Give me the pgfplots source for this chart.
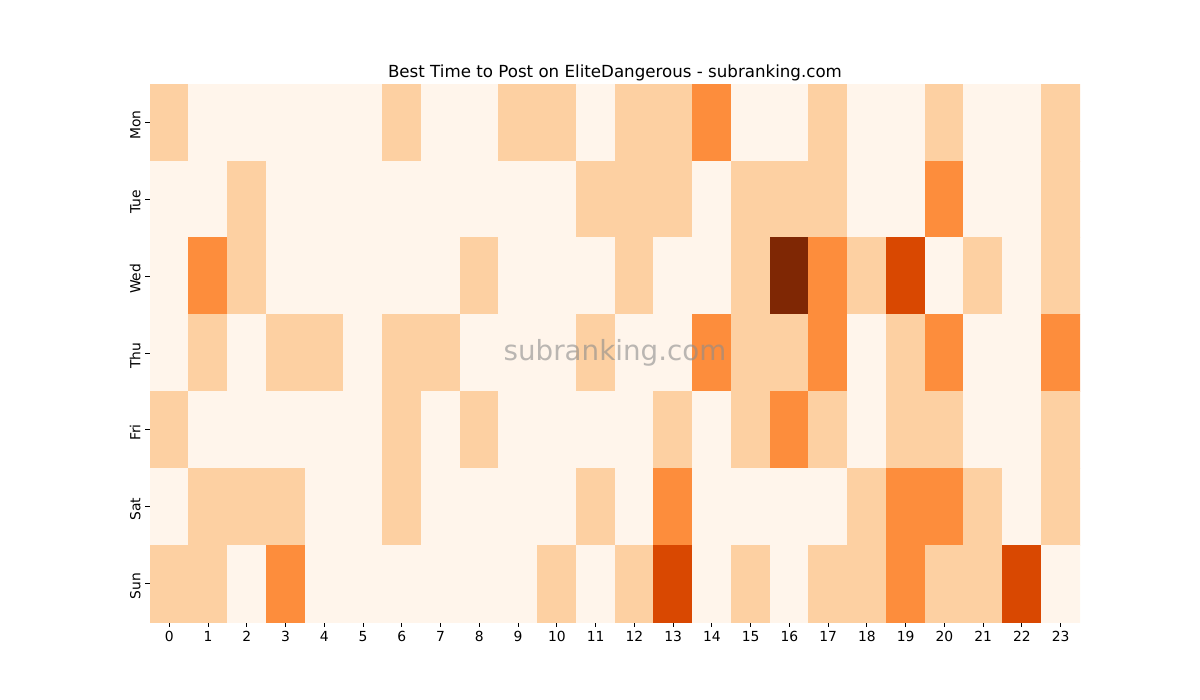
\documentclass[border=0pt]{standalone}
\usepackage{fontspec}
\setmainfont{DejaVu Sans}
\usepackage{pgfplots}
\pgfplotsset{compat=1.18}
\begin{document}
\begin{tikzpicture}
\begin{axis}[
  at={(0,0)}, anchor=south west,
  scale only axis, width=697.5pt, height=403.5pt,
  xmin=-0.5, xmax=23.5, ymin=-0.5, ymax=6.5,
  y dir=reverse,
  axis line style={draw=none},
  tick pos=left, tick align=outside, major tick length=3.6pt,
  tick style={black, line width=0.6pt},
  xtick={0,...,23},
  ytick={0,...,6},
  yticklabels={Mon,Tue,Wed,Thu,Fri,Sat,Sun},
  yticklabel style={rotate=90, anchor=south, xshift=-2pt, font=\fontsize{10.4}{12}\selectfont},
  xticklabel style={font=\fontsize{10.4}{12}\selectfont},
  /pgf/number format/assume math mode=true,
  title={Best Time to Post on EliteDangerous - subranking.com},
  title style={font=\fontsize{12.5}{15}\selectfont, yshift=-7pt},
  colormap={heat}{rgb255=(255,245,235) rgb255=(253,208,162) rgb255=(253,141,60) rgb255=(217,72,1) rgb255=(127,39,4)},
  point meta min=0, point meta max=4,
]
\addplot[matrix plot*, point meta=explicit, mesh/cols=24] coordinates {
(0,0)[1] (1,0)[0] (2,0)[0] (3,0)[0] (4,0)[0] (5,0)[0] (6,0)[1] (7,0)[0] (8,0)[0] (9,0)[1] (10,0)[1] (11,0)[0] (12,0)[1] (13,0)[1] (14,0)[2] (15,0)[0] (16,0)[0] (17,0)[1] (18,0)[0] (19,0)[0] (20,0)[1] (21,0)[0] (22,0)[0] (23,0)[1]

(0,1)[0] (1,1)[0] (2,1)[1] (3,1)[0] (4,1)[0] (5,1)[0] (6,1)[0] (7,1)[0] (8,1)[0] (9,1)[0] (10,1)[0] (11,1)[1] (12,1)[1] (13,1)[1] (14,1)[0] (15,1)[1] (16,1)[1] (17,1)[1] (18,1)[0] (19,1)[0] (20,1)[2] (21,1)[0] (22,1)[0] (23,1)[1]

(0,2)[0] (1,2)[2] (2,2)[1] (3,2)[0] (4,2)[0] (5,2)[0] (6,2)[0] (7,2)[0] (8,2)[1] (9,2)[0] (10,2)[0] (11,2)[0] (12,2)[1] (13,2)[0] (14,2)[0] (15,2)[1] (16,2)[4] (17,2)[2] (18,2)[1] (19,2)[3] (20,2)[0] (21,2)[1] (22,2)[0] (23,2)[1]

(0,3)[0] (1,3)[1] (2,3)[0] (3,3)[1] (4,3)[1] (5,3)[0] (6,3)[1] (7,3)[1] (8,3)[0] (9,3)[0] (10,3)[0] (11,3)[1] (12,3)[0] (13,3)[0] (14,3)[2] (15,3)[1] (16,3)[1] (17,3)[2] (18,3)[0] (19,3)[1] (20,3)[2] (21,3)[0] (22,3)[0] (23,3)[2]

(0,4)[1] (1,4)[0] (2,4)[0] (3,4)[0] (4,4)[0] (5,4)[0] (6,4)[1] (7,4)[0] (8,4)[1] (9,4)[0] (10,4)[0] (11,4)[0] (12,4)[0] (13,4)[1] (14,4)[0] (15,4)[1] (16,4)[2] (17,4)[1] (18,4)[0] (19,4)[1] (20,4)[1] (21,4)[0] (22,4)[0] (23,4)[1]

(0,5)[0] (1,5)[1] (2,5)[1] (3,5)[1] (4,5)[0] (5,5)[0] (6,5)[1] (7,5)[0] (8,5)[0] (9,5)[0] (10,5)[0] (11,5)[1] (12,5)[0] (13,5)[2] (14,5)[0] (15,5)[0] (16,5)[0] (17,5)[0] (18,5)[1] (19,5)[2] (20,5)[2] (21,5)[1] (22,5)[0] (23,5)[1]

(0,6)[1] (1,6)[1] (2,6)[0] (3,6)[2] (4,6)[0] (5,6)[0] (6,6)[0] (7,6)[0] (8,6)[0] (9,6)[0] (10,6)[1] (11,6)[0] (12,6)[1] (13,6)[3] (14,6)[0] (15,6)[1] (16,6)[0] (17,6)[1] (18,6)[1] (19,6)[2] (20,6)[1] (21,6)[1] (22,6)[3] (23,6)[0]
};
\node[text=black!45, opacity=0.6, font=\fontsize{20.8}{25}\selectfont] at (axis cs:11.5,3) {subranking.com};
\end{axis}
\path (-112.5pt,-58.5pt) rectangle (787.5pt,466.5pt);
\end{tikzpicture}
\end{document}
